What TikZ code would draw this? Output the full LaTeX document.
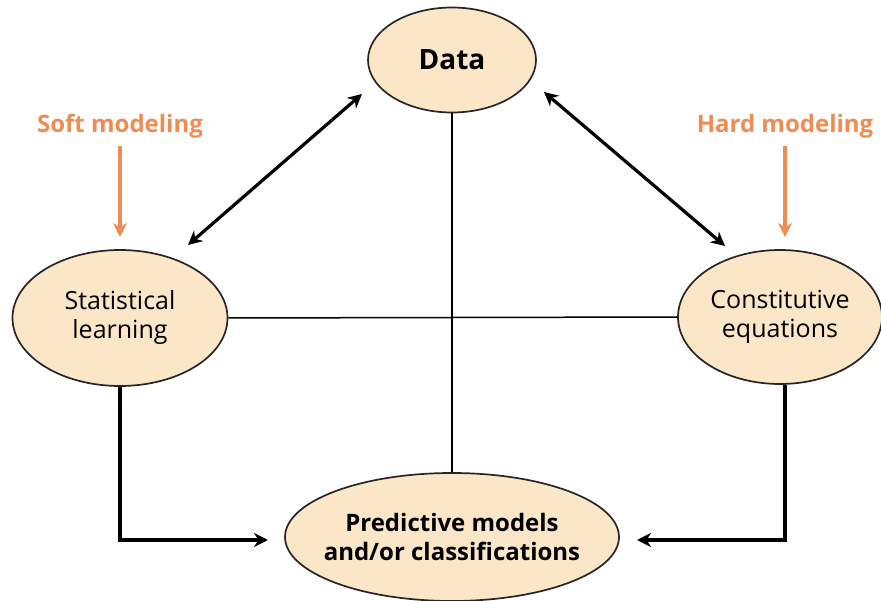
\documentclass[tikz,border=0pt]{standalone}
\usepackage{fontspec}
\setmainfont{Open Sans}
\usetikzlibrary{arrows.meta,shapes.geometric}
\definecolor{peach}{RGB}{252,230,200}
\definecolor{orng}{RGB}{240,140,82}
\begin{document}
\begin{tikzpicture}[x=1pt,y=-1pt,
  ell/.style={ellipse,draw=black!85,line width=1.7pt,fill=peach,inner sep=0pt},
  txt/.style={align=center,inner sep=0pt},
  conn/.style={line width=1.5pt},
  bold arr/.style={line width=3.2pt,-{Stealth[length=14pt,width=14pt]}},
  dbl arr/.style={line width=3.2pt,{Stealth[length=14pt,width=14pt]}-{Stealth[length=14pt,width=14pt]}},
  org arr/.style={line width=3.2pt,draw=orng,-{Stealth[length=14pt,width=14pt]}},
  lbl/.style={text=orng,font=\bfseries\fontsize{24}{26}\selectfont}]
\useasboundingbox (0,0) rectangle (881,601);
\node[ell,minimum width=168pt,minimum height=105pt] (data) at (452,60) {};
\node[txt,font=\bfseries\fontsize{28}{30}\selectfont] (datat) at (data.center) {Data};
\node[ell,minimum width=215pt,minimum height=136pt] (sl) at (120,318) {};
\node[txt,font=\fontsize{25}{29}\selectfont] (slt) at (sl.center) {Statistical\\learning};
\node[ell,minimum width=204pt,minimum height=134pt] (ce) at (780,317) {};
\node[txt,font=\fontsize{25}{29}\selectfont] (cet) at (ce.center) {Constitutive\\equations};
\node[ell,minimum width=334pt,minimum height=128pt] (pm) at (452,537) {};
\node[txt,font=\bfseries\fontsize{24}{29}\selectfont] (pmt) at (pm.center) {Predictive models\\and/or classifications};
\node[lbl] (soft) at (120,126) {Soft modeling};
\node[lbl] (hard) at (785,126) {Hard modeling};
\coordinate (sa) at (120,146); \coordinate (sb) at (120,237);
\coordinate (ha) at (785,146); \coordinate (hb) at (785,237);
\draw[org arr] (sa) -- (sb);
\draw[org arr] (ha) -- (hb);
% cross lines
\draw[conn] (data.south) -- (pm.north);
\draw[conn] (sl.east) -- (ce.west);
% double arrows
\coordinate (d1) at (362,94); \coordinate (d2) at (188,245);
\coordinate (d3) at (544,92); \coordinate (d4) at (725,246);
\draw[dbl arr] (d1) -- (d2);
\draw[dbl arr] (d3) -- (d4);
% elbow arrows
\coordinate (p1) at (268,540); \coordinate (p2) at (637,540);
\draw[bold arr] (sl.south) -- (120,540) -- (p1);
\draw[bold arr] (ce.south -| 785,0) -- (785,540) -- (p2);
\end{tikzpicture}
\end{document}
